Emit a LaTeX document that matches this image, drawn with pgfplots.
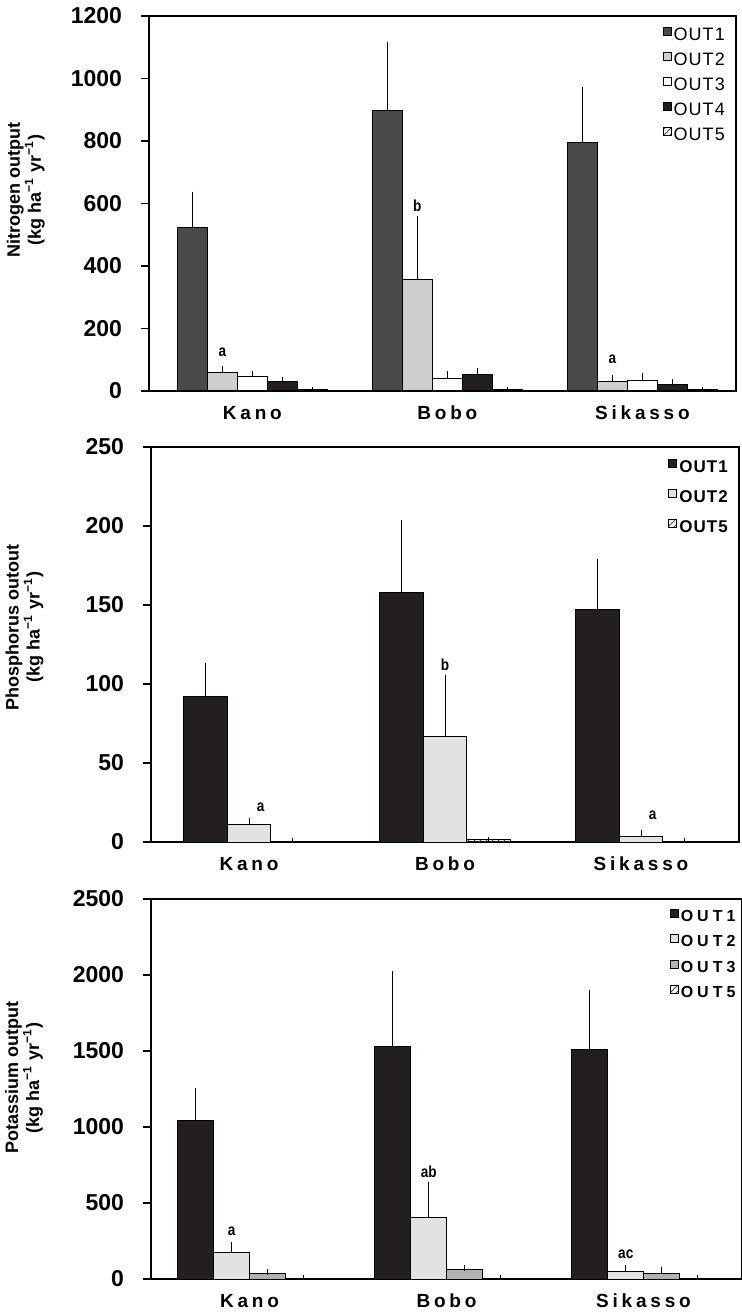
\documentclass[border=0pt]{standalone}
\usepackage{pgfplots}
\pgfplotsset{compat=1.18}
\usepackage{fontspec}
\setmainfont{Liberation Sans}
\newfontfamily\cond[FakeStretch=0.85]{Liberation Sans}
\usetikzlibrary{patterns}
\definecolor{dgray}{HTML}{4A4A4C}
\definecolor{lgray}{HTML}{CDCED0}
\definecolor{blk}{HTML}{231F20}
\definecolor{vlgray}{HTML}{E1E2E4}
\definecolor{mgray}{HTML}{B1B2B4}
\tikzset{lab/.style={font=\cond\fontsize{8}{9}\selectfont\bfseries, inner sep=0pt}}
\pgfplotsset{
  panel/.style={
    scale only axis, ybar, ymin=0, xmin=-0.5, xmax=2.5,
    enlargelimits=false,
    xtick={0,1,2}, xticklabels={Kano,Bobo,Sikasso},
    x tick style={draw=none},
    ytick pos=left,
    tick align=outside, major tick length=4pt,
    ytick style={black, line width=0.6pt},
    axis line style={black, line width=0.7pt},
    /pgf/number format/assume math mode=true,
    /pgf/number format/1000 sep={},
    yticklabel style={font=\fontsize{11.5}{12}\selectfont\bfseries, xshift=-6pt},
    xticklabel style={font=\fontsize{9.5}{11}\selectfont\bfseries\addfontfeature{LetterSpace=20}},
    ylabel style={anchor=center, align=center, rotate=0, font=\fontsize{9}{10.5}\selectfont\bfseries},
    error bars/y dir=plus, error bars/y explicit,
    error bars/error bar style={black, line width=0.5pt},
    error bars/error mark options={black, line width=0.5pt, mark size=1.6pt},
    legend cell align=left,
    legend image code/.code={\draw[#1,/tikz/.cd,line width=0.5pt,draw=black] (0pt,0pt) rectangle (4pt,4pt);},
    every axis plot/.append style={draw=black, line width=0.5pt},
  },
}
\begin{document}
\begin{tikzpicture}
\path[use as bounding box] (0,0) rectangle (371pt,-657.5pt);
% ---------------- Nitrogen
\begin{axis}[panel, at={(74.5pt,-8pt)}, anchor=north west, width=293.5pt, height=187.5pt,
  xmin=-0.53, xmax=2.48,
  ymax=1200, ytick={0,200,...,1200}, bar width=0.154,
  ylabel={Nitrogen output\\(kg ha\textsuperscript{−1} yr\textsuperscript{−1})},
  ylabel style={at={(axis description cs:-0.21,0.536)}},
  legend style={draw=none, fill=none, at={(axis description cs:0.985,0.971)}, anchor=north east,
    inner sep=0pt, font=\fontsize{9}{9}\selectfont\addfontfeature{LetterSpace=6},
    /tikz/row sep=4.3pt, nodes={inner xsep=1pt, inner ysep=0pt}},
]
\addplot[fill=dgray, bar shift=0pt] coordinates {(-0.308,522) +- (0,106) (0.692,899) +- (0,209) (1.692,795) +- (0,167)};
\addplot[fill=lgray, bar shift=0pt] coordinates {(-0.154,58) +- (0,13) (0.846,358) +- (0,191) (1.846,29) +- (0,13)};
\addplot[fill=white, bar shift=0pt] coordinates {(0,45) +- (0,10) (1,40) +- (0,15) (2,33) +- (0,15)};
\addplot[fill=blk, bar shift=0pt] coordinates {(0.154,30) +- (0,6) (1.154,52) +- (0,10) (2.154,21) +- (0,6)};
\addplot[pattern=north east lines, pattern color=black!70, bar shift=0pt] coordinates {(0.308,4) +- (0,0) (1.308,4) +- (0,0) (2.308,4) +- (0,0)};
\legend{OUT1,OUT2,OUT3,OUT4,OUT5}
\node[lab] at (axis cs:-0.154,123) {a};
\node[lab] at (axis cs:0.846,594) {b};
\node[lab] at (axis cs:1.846,100) {a};
\end{axis}
% ---------------- Phosphorus
\begin{axis}[panel, at={(75.5pt,-223.5pt)}, anchor=north west, width=294pt, height=197.5pt,
  ymax=250, ytick={0,50,...,250}, bar width=0.222,
  ylabel={Phosphorus outout\\(kg ha\textsuperscript{−1} yr\textsuperscript{−1})},
  ylabel style={at={(axis description cs:-0.215,0.544)}},
  legend style={draw=none, fill=none, at={(axis description cs:0.985,0.97)}, anchor=north east,
    inner sep=0pt, font=\fontsize{8.5}{9}\selectfont\bfseries\addfontfeature{LetterSpace=6},
    /tikz/row sep=7pt, nodes={inner xsep=1pt, inner ysep=0pt}},
]
\addplot[fill=blk, bar shift=0pt] coordinates {(-0.222,92) +- (0,19) (0.778,158) +- (0,44) (1.778,147) +- (0,30)};
\addplot[fill=vlgray, bar shift=0pt] coordinates {(0,11) +- (0,2.3) (1,66.5) +- (0,37) (2,3.8) +- (0,1.9)};
\addplot[pattern=north east lines, pattern color=black!70, bar shift=0pt] coordinates {(0.222,0.6) +- (0,0) (1.222,1.3) +- (0,0) (2.222,0.6) +- (0,0)};
\legend{OUT1,OUT2,OUT5}
\node[lab] at (axis cs:0.06,22) {a};
\node[lab] at (axis cs:1.0,112) {b};
\node[lab] at (axis cs:2.06,17) {a};
\end{axis}
% ---------------- Potassium
\begin{axis}[panel, at={(75.5pt,-449.5pt)}, anchor=north west, width=295.5pt, height=190pt,
  ymax=2500, ytick={0,500,...,2500}, bar width=0.183,
  ylabel={Potassium output\\(kg ha\textsuperscript{−1} yr\textsuperscript{−1})},
  ylabel style={at={(axis description cs:-0.215,0.529)}},
  legend style={draw=none, fill=none, at={(axis description cs:0.993,0.976)}, anchor=north east,
    inner sep=0pt, font=\fontsize{8}{9}\selectfont\bfseries\addfontfeature{LetterSpace=25},
    /tikz/row sep=5pt, nodes={inner xsep=1pt, inner ysep=0pt}},
]
\addplot[fill=blk, bar shift=0pt] coordinates {(-0.2745,1045) +- (0,191) (0.7255,1527) +- (0,481) (1.7255,1509) +- (0,371)};
\addplot[fill=vlgray, bar shift=0pt] coordinates {(-0.0915,175) +- (0,46) (0.9085,405) +- (0,214) (1.9085,50) +- (0,20)};
\addplot[fill=mgray, bar shift=0pt] coordinates {(0.0915,37) +- (0,11) (1.0915,63) +- (0,9) (2.0915,39) +- (0,16)};
\addplot[pattern=north east lines, pattern color=black!70, bar shift=0pt] coordinates {(0.2745,6) +- (0,0) (1.2745,6) +- (0,0) (2.2745,6) +- (0,0)};
\legend{OUT1,OUT2,OUT3,OUT5}
\node[lab] at (axis cs:-0.09,313) {a};
\node[lab] at (axis cs:0.91,706) {ab};
\node[lab] at (axis cs:1.91,166) {ac};
\end{axis}
\end{tikzpicture}
\end{document}
